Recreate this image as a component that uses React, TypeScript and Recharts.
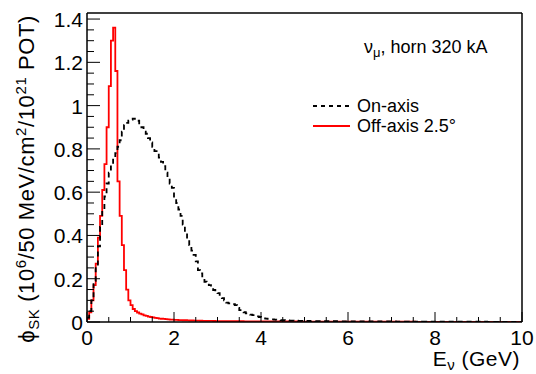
import { LineChart, Line, XAxis, YAxis, ReferenceLine } from 'recharts';

// 50 MeV bins from 0 to 10 GeV, flux per bin (10^6 / 50 MeV / cm^2 / 10^21 POT)
const binWidth = 0.05;

const onAxis = [
    0.02, 0.05, 0.10, 0.19, 0.26, 0.35, 0.44, 0.52, 0.58, 0.64,
    0.69, 0.73, 0.76, 0.78, 0.81, 0.84, 0.88, 0.91, 0.92, 0.93,
    0.935, 0.94, 0.935, 0.93, 0.91, 0.90, 0.88, 0.87, 0.85, 0.83,
    0.81, 0.79, 0.78, 0.76, 0.74, 0.72, 0.69, 0.665, 0.64, 0.62,
    0.575, 0.55, 0.52, 0.49, 0.45, 0.415, 0.38, 0.355, 0.33, 0.31,
    0.28, 0.24, 0.225, 0.20, 0.186, 0.18, 0.17, 0.16, 0.148, 0.14,
    0.133, 0.12, 0.11, 0.10, 0.09, 0.086, 0.086, 0.082, 0.078, 0.065,
    0.055, 0.05, 0.045, 0.04, 0.037, 0.034, 0.032, 0.029, 0.026, 0.023,
    0.019, 0.017, 0.016, 0.014, 0.013, 0.012, 0.011, 0.010, 0.009, 0.0085,
    0.008, 0.0075, 0.007, 0.0068, 0.0065, 0.006, 0.0058, 0.0055, 0.0053, 0.005,
    0.0052, 0.0048, 0.0046, 0.0047, 0.0044, 0.0042, 0.0043, 0.004, 0.0039, 0.0041,
    0.0038, 0.0036, 0.0037, 0.0035, 0.0034, 0.0035, 0.0033, 0.0032, 0.0033, 0.0031,
    0.003, 0.0031, 0.0029, 0.0028, 0.003, 0.0027, 0.0027, 0.0026, 0.0028, 0.0025,
    0.0025, 0.0026, 0.0024, 0.0024, 0.0025, 0.0023, 0.0023, 0.0022, 0.0024, 0.0022,
    0.0021, 0.0022, 0.0021, 0.002, 0.0021, 0.002, 0.0019, 0.002, 0.0019, 0.0018,
    0.0019, 0.0018, 0.0018, 0.0017, 0.0018, 0.0017, 0.0016, 0.0017, 0.0016, 0.0016,
    0.0015, 0.0016, 0.0015, 0.0015, 0.0014, 0.0015, 0.0014, 0.0014, 0.0013, 0.0014,
    0.0013, 0.0013, 0.0012, 0.0013, 0.0012, 0.0012, 0.0012, 0.0011, 0.0012, 0.0011,
    0.0011, 0.0011, 0.001, 0.0011, 0.001, 0.001, 0.001, 0.0009, 0.001, 0.0009,
    0.0009, 0.0009, 0.0008, 0.0009, 0.0008, 0.0008, 0.0008, 0.0008, 0.0007, 0.0008,
];

const offAxis = [
    0.015, 0.045, 0.10, 0.17, 0.27, 0.39, 0.49, 0.61, 0.73, 0.90,
    1.09, 1.30, 1.36, 1.16, 0.65, 0.49, 0.355, 0.24, 0.15, 0.10,
    0.078, 0.06, 0.05, 0.044, 0.039, 0.035, 0.031, 0.028, 0.025, 0.023,
    0.021, 0.019, 0.018, 0.016, 0.015, 0.014, 0.013, 0.012, 0.011, 0.011,
    0.010, 0.0095, 0.009, 0.0085, 0.008, 0.008, 0.0075, 0.007, 0.007, 0.0065,
    0.006, 0.006, 0.0058, 0.0055, 0.0053, 0.005, 0.005, 0.0048, 0.0046, 0.0045,
    0.0044, 0.0043, 0.0042, 0.004, 0.004, 0.0039, 0.0038, 0.0037, 0.0036, 0.0035,
    0.0035, 0.0034, 0.0033, 0.0033, 0.0032, 0.0031, 0.0031, 0.003, 0.003, 0.0029,
    0.0029, 0.0028, 0.0028, 0.0027, 0.0027, 0.0026, 0.0026, 0.0025, 0.0025, 0.0025,
    0.0024, 0.0024, 0.0023, 0.0023, 0.0023, 0.0022, 0.0022, 0.0022, 0.0021, 0.0021,
    0.0021, 0.002, 0.002, 0.002, 0.002, 0.0019, 0.0019, 0.0019, 0.0019, 0.0018,
    0.0018, 0.0018, 0.0018, 0.0017, 0.0017, 0.0017, 0.0017, 0.0016, 0.0016, 0.0016,
    0.0016, 0.0016, 0.0015, 0.0015, 0.0015, 0.0015, 0.0015, 0.0014, 0.0014, 0.0014,
    0.0014, 0.0014, 0.0013, 0.0013, 0.0013, 0.0013, 0.0013, 0.0013, 0.0012, 0.0012,
    0.0012, 0.0012, 0.0012, 0.0012, 0.0011, 0.0011, 0.0011, 0.0011, 0.0011, 0.0011,
    0.0011, 0.001, 0.001, 0.001, 0.001, 0.001, 0.001, 0.001, 0.001, 0.0009,
    0.0009, 0.0009, 0.0009, 0.0009, 0.0009, 0.0009, 0.0009, 0.0009, 0.0009, 0.0009,
    0.0009, 0.0009, 0.0009, 0.0009, 0.0008, 0.0008, 0.0008, 0.0008, 0.0008, 0.0008,
    0.0008, 0.0008, 0.0008, 0.0008, 0.0008, 0.0008, 0.0008, 0.0008, 0.0007, 0.0007,
    0.0007, 0.0007, 0.0007, 0.0007, 0.0007, 0.0007, 0.0007, 0.0007, 0.0007, 0.0007,
];

const xMajorTicks = [0, 2, 4, 6, 8, 10];
const xMinorStep = 0.5;
const yMajorTicks = [0, 0.2, 0.4, 0.6, 0.8, 1, 1.2, 1.4];
const yMinorStep = 0.05;

const xMax = 10;
const yMax = 1.428;

const FONT = '"Liberation Sans", Arial, Helvetica, sans-serif';

const chartData = onAxis.map((v, i) => ({ e: i * binWidth, on: v, off: offAxis[i] }));
// close the last bin
chartData.push({ e: xMax, on: onAxis[onAxis.length - 1], off: offAxis[offAxis.length - 1] });

const xTicks = Array.from({ length: Math.round(xMax / xMinorStep) + 1 }, (_, i) => i * xMinorStep);
const yTicks = Array.from({ length: Math.round(1.4 / yMinorStep) + 1 }, (_, i) => +(i * yMinorStep).toFixed(2));

const isMajor = (v: number, majors: number[]) => majors.some((m) => Math.abs(m - v) < 1e-6);

const XTick = (props: any) => {
    const { x, y, payload } = props;
    const major = isMajor(payload.value, xMajorTicks);
    return (
        <g>
            <line x1={x} x2={x} y1={y} y2={y - (major ? 10 : 5)} stroke="#000" strokeWidth={1} />
            {major && (
                <text x={x} y={y + 23} textAnchor="middle" fontFamily={FONT} fontSize={21} fill="#000">
                    {payload.value}
                </text>
            )}
        </g>
    );
};

const YTick = (props: any) => {
    const { x, y, payload } = props;
    const major = isMajor(payload.value, yMajorTicks);
    return (
        <g>
            <line x1={x} x2={x + (major ? 13 : 7)} y1={y} y2={y} stroke="#000" strokeWidth={1} />
            {major && (
                <text x={x - 4} y={y + 8} textAnchor="end" fontFamily={FONT} fontSize={21} fill="#000">
                    {String(Math.round(payload.value * 10) / 10)}
                </text>
            )}
        </g>
    );
};

const YTitle = () => (
    <text
        transform="translate(34, 15) rotate(-90)"
        textAnchor="end"
        fontFamily={FONT}
        fontSize={22}
        letterSpacing={0.6}
        fill="#000"
    >
        <tspan>ϕ</tspan>
        <tspan fontSize={15} dy={5}>SK</tspan>
        <tspan dy={-5}> (10</tspan>
        <tspan fontSize={15} dy={-8}>6</tspan>
        <tspan dy={8}>/50 MeV/cm</tspan>
        <tspan fontSize={15} dy={-8}>2</tspan>
        <tspan dy={8}>/10</tspan>
        <tspan fontSize={15} dy={-8}>21</tspan>
        <tspan dy={8}> POT)</tspan>
    </text>
);

const XTitle = () => (
    <text x={520} y={366} textAnchor="end" fontFamily={FONT} fontSize={21} letterSpacing={0.5} fill="#000">
        <tspan>E</tspan>
        <tspan fontSize={15} dy={4}>ν</tspan>
        <tspan dy={-4}> (GeV)</tspan>
    </text>
);

export default function App() {
    return (
        <div style={{ position: 'absolute', left: 0, top: 0, width: 536, height: 374, background: '#fff' }}>
            <LineChart
                width={536}
                height={374}
                data={chartData}
                margin={{ top: 13, right: 14, bottom: 0, left: 0 }}
            >
                <XAxis
                    dataKey="e"
                    type="number"
                    domain={[0, xMax]}
                    ticks={xTicks}
                    interval={0}
                    height={52}
                    tickSize={0}
                    tickMargin={0}
                    tickLine={false}
                    tick={<XTick />}
                    axisLine={{ stroke: '#000', strokeWidth: 1.5 }}
                    label={{ content: <XTitle /> }}
                />
                <YAxis
                    type="number"
                    domain={[0, yMax]}
                    ticks={yTicks}
                    interval={0}
                    width={87}
                    tickSize={0}
                    tickMargin={0}
                    tickLine={false}
                    tick={<YTick />}
                    allowDataOverflow
                    axisLine={{ stroke: '#000', strokeWidth: 1.5 }}
                    label={{ content: <YTitle /> }}
                />
                <ReferenceLine y={yMax} stroke="#000" strokeWidth={1.5} />
                <ReferenceLine x={xMax} stroke="#000" strokeWidth={1.5} />
                <Line
                    type="stepAfter"
                    dataKey="off"
                    stroke="#ff0000"
                    strokeWidth={1.8}
                    dot={false}
                    isAnimationActive={false}
                />
                <Line
                    type="stepAfter"
                    dataKey="on"
                    stroke="#000"
                    strokeWidth={1.8}
                    strokeDasharray="5 4"
                    dot={false}
                    isAnimationActive={false}
                />
            </LineChart>
            <svg
                width={536}
                height={374}
                style={{ position: 'absolute', left: 0, top: 0, pointerEvents: 'none' }}
            >
                <text x={364} y={53} fontFamily={FONT} fontSize={18} fill="#000">
                    <tspan>ν</tspan>
                    <tspan fontSize={13} dy={4}>μ</tspan>
                    <tspan dy={-4}>, horn 320 kA</tspan>
                </text>
                <line x1={313} x2={350} y1={106} y2={106} stroke="#000" strokeWidth={1.8} strokeDasharray="4 4" />
                <text x={357} y={112} fontFamily={FONT} fontSize={18} fill="#000">On-axis</text>
                <line x1={313} x2={350} y1={126} y2={126} stroke="#ff0000" strokeWidth={1.8} />
                <text x={357} y={132} fontFamily={FONT} fontSize={18} fill="#000">Off-axis 2.5°</text>
            </svg>
        </div>
    );
}
